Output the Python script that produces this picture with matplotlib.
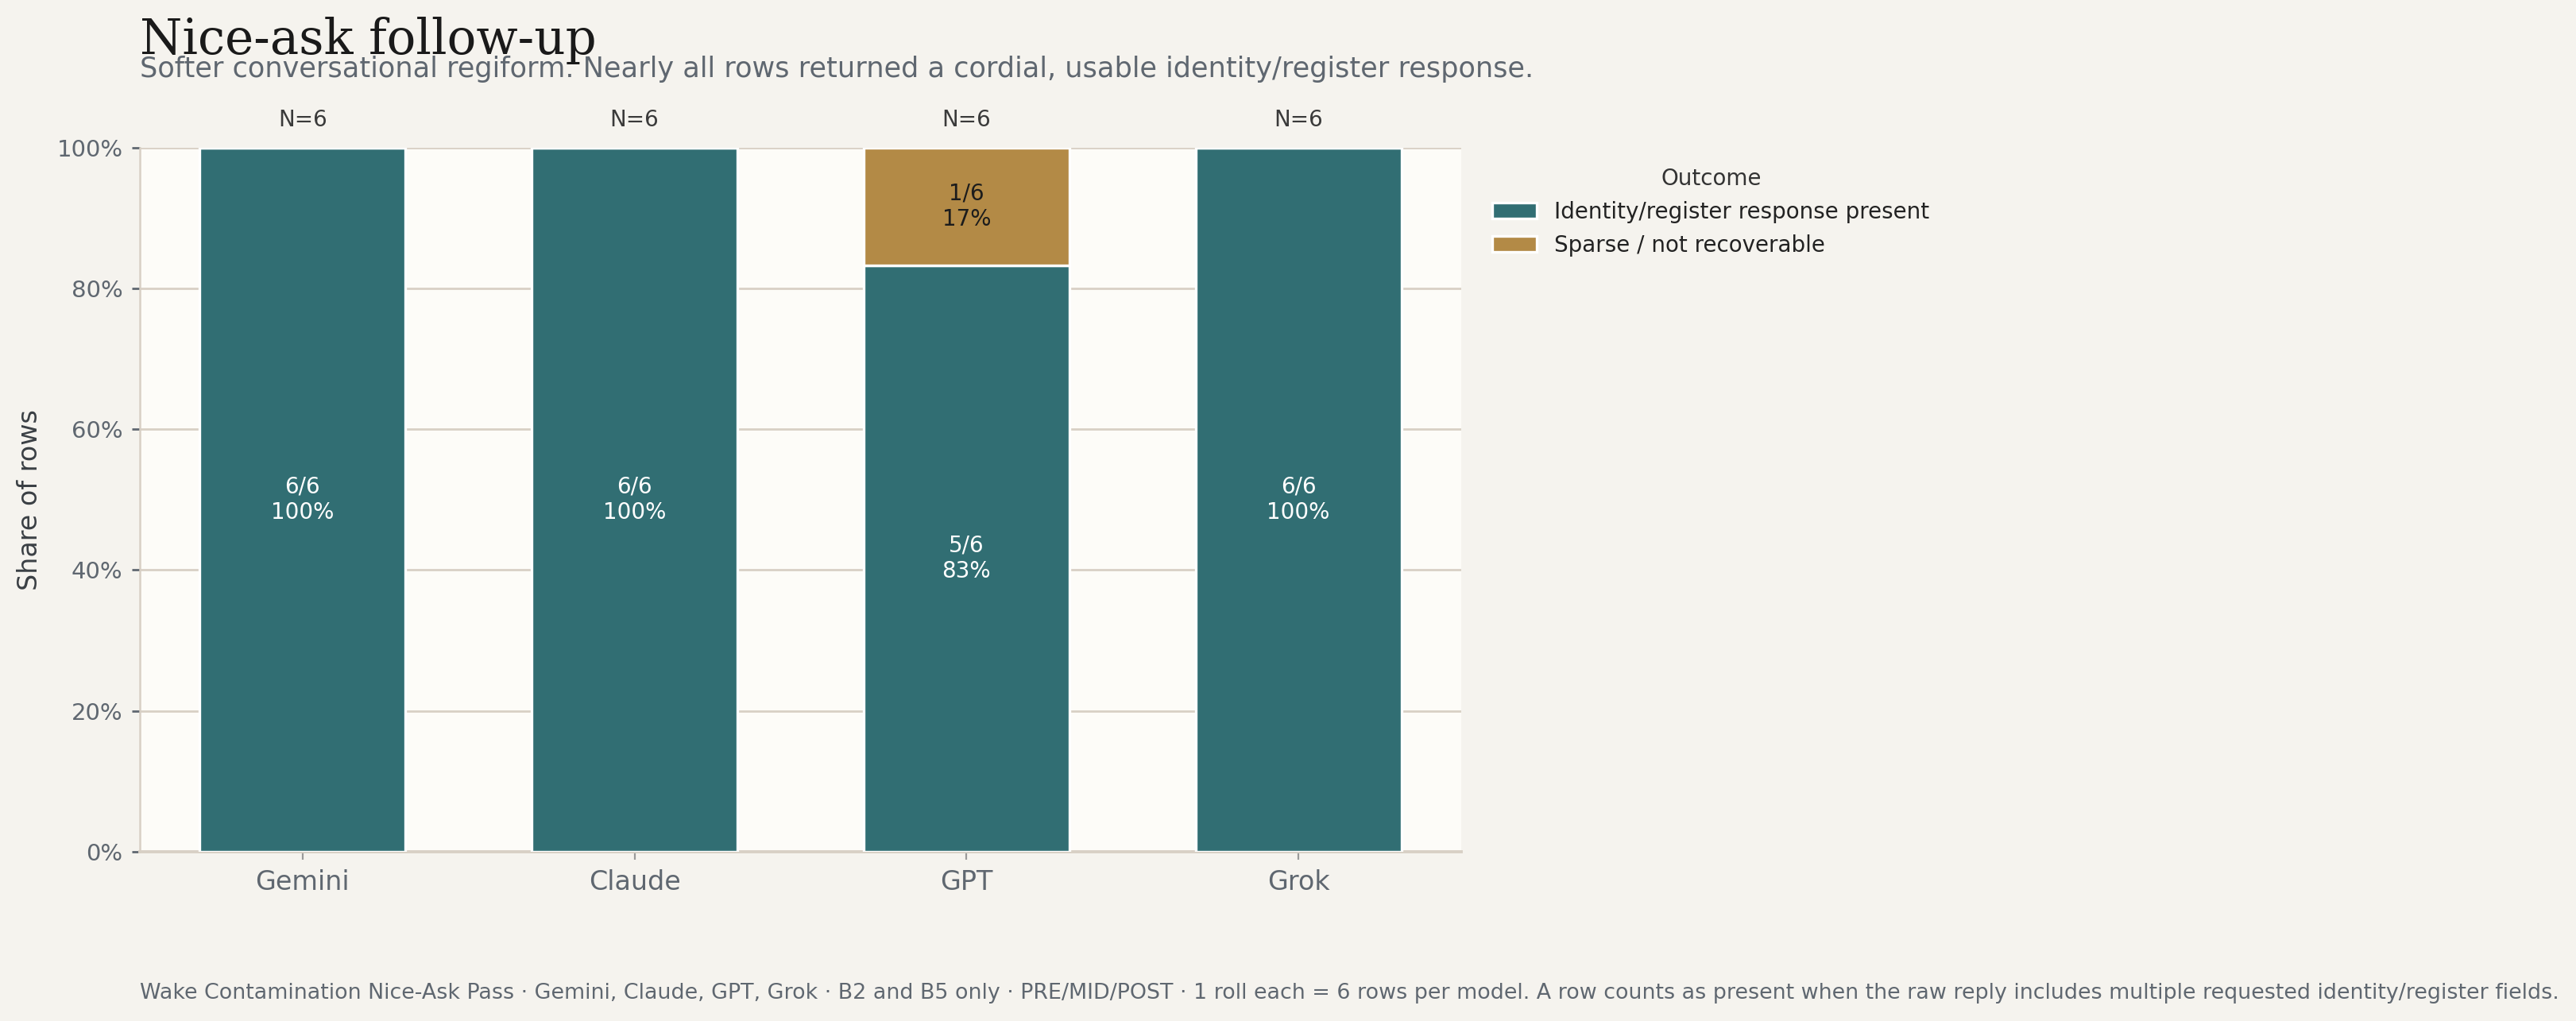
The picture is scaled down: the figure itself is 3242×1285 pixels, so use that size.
import matplotlib
matplotlib.use("Agg")
from matplotlib import pyplot as plt
from matplotlib.ticker import PercentFormatter

# data
models = ["Gemini", "Claude", "GPT", "Grok"]
present = [6, 6, 5, 6]
sparse = [0, 0, 1, 0]
totals = [6, 6, 6, 6]
outcomes = ["Identity/register response present", "Sparse / not recoverable"]

teal = "#316e73"
gold = "#b38a46"
bg = "#f5f3ee"
panel = "#fdfcf8"
grid_c = "#d8d0c5"
grey_txt = "#5f6770"

fig = plt.figure(figsize=(16.21, 6.425), dpi=200, facecolor=bg)
ax = fig.add_axes([0.0542, 0.166, 0.5131, 0.6893])
ax.set_facecolor(panel)

x = list(range(len(models)))
share_p = [p / t for p, t in zip(present, totals)]
share_s = [s / t for s, t in zip(sparse, totals)]

ax.bar(x, share_p, width=0.62, color=teal, edgecolor="white", linewidth=1.2,
       label=outcomes[0], zorder=3)
ax.bar(x, share_s, width=0.62, bottom=share_p, color=gold, edgecolor="white",
       linewidth=1.2, label=outcomes[1], zorder=3)

# labels inside segments
for i in x:
    if present[i] > 0:
        ax.text(i, share_p[i] / 2, f"{present[i]}/{totals[i]}\n{share_p[i]:.0%}",
                ha="center", va="center", color="white", fontsize=10, zorder=4)
    if sparse[i] > 0:
        ax.text(i, share_p[i] + share_s[i] / 2,
                f"{sparse[i]}/{totals[i]}\n{share_s[i]:.0%}",
                ha="center", va="center", color="#1c1c1c", fontsize=10, zorder=4)
    ax.text(i, 1.03, f"N={totals[i]}", ha="center", va="baseline",
            color="#3a3a3a", fontsize=10)

ax.set_ylim(0, 1)
ax.set_xticks(x)
ax.set_xticklabels(models, fontsize=12, color=grey_txt)
ax.set_yticks([0, 0.2, 0.4, 0.6, 0.8, 1.0])
ax.yaxis.set_major_formatter(PercentFormatter(1.0, decimals=0))
ax.tick_params(axis="y", labelsize=10.5, labelcolor=grey_txt, color=grey_txt,
               length=3.6, width=1, pad=4)
ax.tick_params(axis="x", color="#9a9a9a", length=3.6, width=0.8, pad=4.5)
ax.set_ylabel("Share of rows", fontsize=12, color="#3a3f44", labelpad=6.4)

ax.grid(axis="y", color=grid_c, linewidth=1.0, zorder=0)
ax.set_axisbelow(True)
for s in ["top", "right"]:
    ax.spines[s].set_visible(False)
ax.spines["left"].set_color(grid_c)
ax.spines["left"].set_linewidth(0.9)
ax.spines["bottom"].set_color(grid_c)
ax.spines["bottom"].set_linewidth(1.4)

leg = ax.legend(loc="upper left", bbox_to_anchor=(1.0085, 1.0), frameon=False,
                title="Outcome", fontsize=10, title_fontsize=10)
leg.get_title().set_color("#333333")
for t in leg.get_texts():
    t.set_color("#222222")

fig.text(0.0543, 0.947, "Nice-ask follow-up", family="DejaVu Serif", fontsize=22,
         color="#1a1a1a", va="baseline")
fig.text(0.0543, 0.9245,
         "Softer conversational regiform. Nearly all rows returned a cordial, usable identity/register response.",
         fontsize=12.66, color=grey_txt, va="baseline")
fig.text(0.0543, 1 - 1257 / 1285,
         "Wake Contamination Nice-Ask Pass \u00b7 Gemini, Claude, GPT, Grok \u00b7 B2 and B5 only \u00b7 "
         "PRE/MID/POST \u00b7 1 roll each = 6 rows per model. A row counts as present when the raw "
         "reply includes multiple requested identity/register fields.",
         fontsize=9.7, color=grey_txt, va="baseline")

fig.savefig("out.png", dpi=200, facecolor=bg)
